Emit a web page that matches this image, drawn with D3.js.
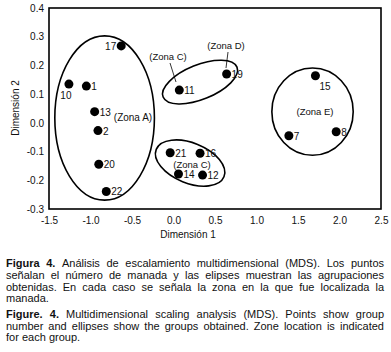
<!DOCTYPE html>
<html>
<head>
<meta charset="utf-8">
<script src="https://cdn.jsdelivr.net/npm/d3@7"></script>
<style>
  body { margin: 0; background: #fff; }
  text { font-family: "Liberation Sans", Arial, sans-serif; fill: #111; }
</style>
</head>
<body>
<script>
// MDS points: herd number and coordinates
var herds = ["1", "2", "7", "8", "10", "11", "12", "13", "14", "15", "16", "17", "19", "20", "21", "22"];
var dim1 = [-1.05, -0.91, 1.39, 1.96, -1.26, 0.07, 0.35, -0.95, 0.06, 1.71, 0.32, -0.63, 0.64, -0.90, -0.04, -0.81];
var dim2 = [0.128, -0.027, -0.045, -0.031, 0.135, 0.114, -0.182, 0.039, -0.178, 0.164, -0.106, 0.268, 0.170, -0.144, -0.104, -0.239];
var labelSide = ["r", "r", "r", "r", "b", "r", "r", "r", "r", "br", "r", "l", "r", "r", "r", "r"];

// group ellipses (centre in data units, semi axes in data units, tilt in degrees)
var zoneNames = ["A", "C", "D", "E"];
var zoneCx = [-0.83, 0.20, 0.32, 1.675];
var zoneCy = [0.017, -0.140, 0.142, 0.039];
var zoneRx = [0.60, 0.44, 0.48, 0.49];
var zoneRy = [0.286, 0.070, 0.060, 0.152];
var zoneTilt = [0, 22, -22, 0];

var xTicks = [-1.5, -1.0, -0.5, 0.0, 0.5, 1.0, 1.5, 2.0, 2.5];
var yTicks = [-0.3, -0.2, -0.1, 0.0, 0.1, 0.2, 0.3, 0.4];

var width = 391, height = 352;
var plotL = 49, plotT = 8, plotR = 381, plotB = 209;

var svg = d3.select("body").append("svg")
    .attr("width", width)
    .attr("height", height);

var x = d3.scaleLinear().domain([-1.5, 2.5]).range([plotL, plotR]);
var y = d3.scaleLinear().domain([-0.3, 0.4]).range([plotB, plotT]);

// axes without tick marks
var xAxis = d3.axisBottom(x).tickValues(xTicks).tickSize(0).tickPadding(8)
    .tickFormat(function(d) { return d.toFixed(1); });
var yAxis = d3.axisLeft(y).tickValues(yTicks).tickSize(0).tickPadding(5)
    .tickFormat(function(d) { return d.toFixed(1); });

var gx = svg.append("g").attr("transform", "translate(0," + plotB + ")").call(xAxis);
var gy = svg.append("g").attr("transform", "translate(" + plotL + ",0)").call(yAxis);
gx.select(".domain").remove();
gy.select(".domain").remove();
svg.selectAll(".tick text")
    .attr("font-family", "Liberation Sans, Arial, sans-serif")
    .attr("font-size", 10)
    .attr("fill", "#222");

// plot frame
svg.append("rect")
    .attr("x", plotL).attr("y", plotT)
    .attr("width", plotR - plotL).attr("height", plotB - plotT)
    .attr("fill", "none").attr("stroke", "#000").attr("stroke-width", 1.6);

svg.append("text")
    .attr("x", 188).attr("y", 238)
    .attr("text-anchor", "middle").attr("font-size", 10)
    .text("Dimensión 1");
svg.append("text")
    .attr("transform", "translate(19,108) rotate(-90)")
    .attr("text-anchor", "middle").attr("font-size", 10)
    .text("Dimensión 2");

// ellipses
var kx = x(1) - x(0), ky = y(0) - y(1);
svg.selectAll("ellipse.zone")
    .data(zoneNames)
    .enter().append("ellipse")
    .attr("class", "zone")
    .attr("transform", function(d, i) {
      return "translate(" + x(zoneCx[i]) + "," + y(zoneCy[i]) + ") rotate(" + zoneTilt[i] + ")";
    })
    .attr("rx", function(d, i) { return zoneRx[i] * kx; })
    .attr("ry", function(d, i) { return zoneRy[i] * ky; })
    .attr("fill", "none")
    .attr("stroke", "#000")
    .attr("stroke-width", 1.6);

// points
svg.selectAll("circle")
    .data(herds)
    .enter().append("circle")
    .attr("cx", function(d, i) { return x(dim1[i]); })
    .attr("cy", function(d, i) { return y(dim2[i]); })
    .attr("r", 4.5)
    .attr("fill", "#000");

svg.selectAll("text.herd")
    .data(herds)
    .enter().append("text")
    .attr("class", "herd")
    .attr("font-size", 10)
    .attr("font-family", function(d) { return d === "1" ? "Liberation Serif, serif" : null; })
    .attr("x", function(d, i) {
      var s = labelSide[i], px = x(dim1[i]);
      if (s === "l") return px - 5;
      if (s === "b") return px - 3;
      if (s === "br") return px + 4;
      return px + 5;
    })
    .attr("y", function(d, i) {
      var s = labelSide[i], py = y(dim2[i]);
      if (s === "b") return py + 15;
      if (s === "br") return py + 14;
      return py + 4;
    })
    .attr("text-anchor", function(d, i) {
      var s = labelSide[i];
      return s === "l" ? "end" : (s === "b" ? "middle" : "start");
    })
    .text(function(d) { return d; });

// zone labels
svg.append("text").attr("x", 133).attr("y", 121).attr("text-anchor", "middle")
    .attr("font-size", 10).attr("font-family", "Liberation Serif, serif").text("(Zona A)");
svg.append("text").attr("x", 168).attr("y", 60).attr("text-anchor", "middle")
    .attr("font-size", 9.5).text("(Zona C)");
svg.append("text").attr("x", 226).attr("y", 49).attr("text-anchor", "middle")
    .attr("font-size", 9.5).text("(Zona D)");
svg.append("text").attr("x", 315).attr("y", 115).attr("text-anchor", "middle")
    .attr("font-size", 9.5).text("(Zona E)");
svg.append("text").attr("x", 192).attr("y", 168).attr("text-anchor", "middle")
    .attr("font-size", 9.5).text("(Zona C)");

// pointer lines
svg.append("line").attr("x1", 170).attr("y1", 63).attr("x2", 176).attr("y2", 82)
    .attr("stroke", "#000").attr("stroke-width", 0.8);
svg.append("line").attr("x1", 228).attr("y1", 52).attr("x2", 226).attr("y2", 68)
    .attr("stroke", "#000").attr("stroke-width", 0.8);

// caption, justified by spreading words
var captionLines = [
  ["Figura 4.", "Análisis de escalamiento multidimensional (MDS). Los puntos"],
  ["", "señalan el número de manada y las elipses muestran las agrupaciones"],
  ["", "obtenidas. En cada caso se señala la zona en la que fue localizada la"],
  ["", "manada."],
  ["Figure. 4.", "Multidimensional scaling analysis (MDS). Points show group"],
  ["", "number and ellipses show the groups obtained. Zone location is indicated"],
  ["", "for each group."]
];
var justify = [true, true, true, false, true, true, false];
var baselines = [267, 279, 291, 302, 318, 330, 341];
var capLeft = 6, capRight = 384;

captionLines.forEach(function(line, li) {
  var words = [];
  if (line[0]) line[0].split(" ").forEach(function(w) { words.push({ t: w, b: true }); });
  line[1].split(" ").forEach(function(w) { words.push({ t: w, b: false }); });
  var nodes = words.map(function(w) {
    return svg.append("text")
      .attr("y", baselines[li])
      .attr("font-size", 11)
      .attr("font-weight", w.b ? "bold" : null)
      .attr("fill", "#111")
      .text(w.t);
  });
  var widths = nodes.map(function(n) { return n.node().getComputedTextLength(); });
  var total = d3.sum(widths);
  var gap = justify[li] ? (capRight - capLeft - total) / (words.length - 1) : 3.1;
  var cx = capLeft;
  nodes.forEach(function(n, i) {
    n.attr("x", cx);
    cx += widths[i] + gap;
  });
});
</script>
</body>
</html>
